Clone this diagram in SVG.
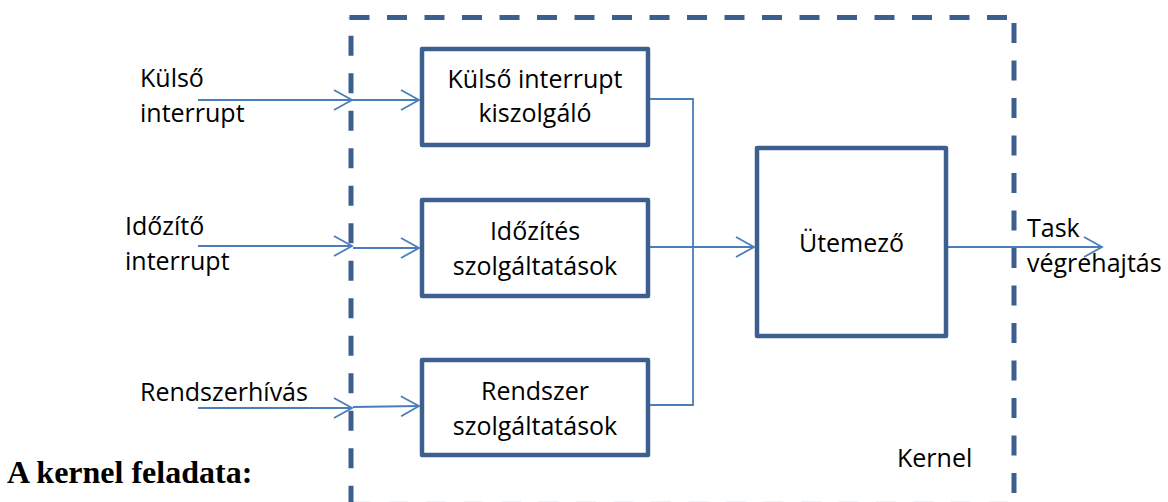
<svg xmlns="http://www.w3.org/2000/svg" width="1168" height="502" viewBox="0 0 1168 502">
<defs>
<style>
.t{font-family:"Open Sans","Liberation Sans",sans-serif;font-size:25px;fill:#000}
.c{text-anchor:middle}
.box{fill:#fff;stroke:#3c5f8e;stroke-width:4.5;stroke-linejoin:round}
.dash{fill:none;stroke:#3c5f8e;stroke-width:5;stroke-dasharray:20 17.5}
.ln{fill:none;stroke:#4a7ebb;stroke-width:1.8}
.ar{fill:none;stroke:#4a7ebb;stroke-width:1.8;marker-end:url(#ah)}
</style>
<marker id="ah" markerUnits="userSpaceOnUse" markerWidth="24" markerHeight="24" viewBox="-20 -12 22 24" refX="0" refY="0" orient="auto">
<path d="M-18,-10 L0,0 L-18,10" fill="none" stroke="#4a7ebb" stroke-width="1.8"/>
</marker>
</defs>
<rect width="1168" height="502" fill="#fff"/>
<g id="kernel">
<path class="dash" d="M349.5,17.5 H1014"/>
<path class="dash" d="M351,17.5 V510" stroke-dashoffset="19.3"/>
<path class="dash" d="M1014,17.5 V510" stroke-dashoffset="32"/>
<path class="dash" d="M351,504 H1014" stroke-opacity="0.15"/>
<text class="t" x="897" y="467" font-size="24.5">Kernel</text>
</g>
<g id="connectors">
<path class="ar" d="M198,100 H352"/>
<path class="ar" d="M352,100 H419"/>
<path class="ar" d="M198,246 H352"/>
<path class="ar" d="M353,248 H419"/>
<path class="ar" d="M198,408 H352"/>
<path class="ar" d="M353,407 L419,406"/>
<path class="ln" d="M650,99 H693 V405 H650"/>
<path class="ar" d="M650,247 H754"/>
<path class="ar" d="M948,247 H1102"/>
</g>
<g id="n1">
<rect class="box" x="422" y="49" width="226" height="96"/>
<text class="t c" x="535" y="88">Külső interrupt</text>
<text class="t c" x="535" y="122">kiszolgáló</text>
</g>
<g id="n2">
<rect class="box" x="422" y="200" width="226" height="96"/>
<text class="t c" x="535" y="240">Időzítés</text>
<text class="t c" x="535" y="275">szolgáltatások</text>
</g>
<g id="n3">
<rect class="box" x="422" y="360" width="226" height="95"/>
<text class="t c" x="535" y="400">Rendszer</text>
<text class="t c" x="535" y="435">szolgáltatások</text>
</g>
<g id="n4">
<rect class="box" x="757" y="148" width="189" height="188"/>
<text class="t c" x="851.5" y="252">Ütemező</text>
</g>
<g id="labels">
<text class="t" x="140" y="87">Külső</text>
<text class="t" x="140" y="122">interrupt</text>
<text class="t" x="125" y="235">Időzítő</text>
<text class="t" x="125" y="270">interrupt</text>
<text class="t" x="140" y="401">Rendszerhívás</text>
<text class="t" x="1027" y="237">Task</text>
<text class="t" x="1027" y="272">végrehajtás</text>
<text x="7" y="483" font-family="'Liberation Serif',serif" font-weight="bold" font-size="32" fill="#000">A kernel feladata:</text>
</g>
</svg>
